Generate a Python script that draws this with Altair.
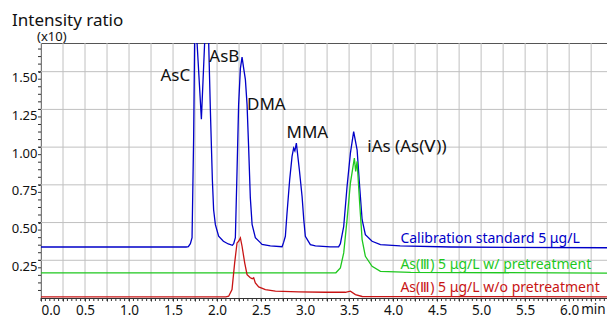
import altair as alt
import pandas as pd

# ---- data (time in min, intensity ratio x10) ----
blue_t = [0.0, 1.0, 1.65, 1.674, 1.697, 1.716, 1.734, 1.745, 1.76, 1.773, 1.822, 1.859, 1.88, 1.905,
          1.924, 1.947, 1.961, 1.981, 2.018, 2.072, 2.128, 2.174, 2.189, 2.208, 2.227, 2.245, 2.265,
          2.284, 2.303, 2.322, 2.341, 2.359, 2.378, 2.398, 2.435, 2.492, 2.511, 2.605, 2.739, 2.757,
          2.776, 2.795, 2.825, 2.852, 2.870, 2.884, 2.901, 2.935, 2.966, 2.985, 3.003, 3.06, 3.117,
          3.287, 3.381, 3.401, 3.439, 3.477, 3.515, 3.552, 3.591, 3.62, 3.648, 3.685, 3.761, 3.856,
          4.08, 4.65, 6.43]
blue_v = [0.338, 0.338, 0.338, 0.340, 0.36, 0.40, 1.06, 1.69, 1.95, 1.69, 1.185, 1.69, 1.95, 1.69,
          1.247, 0.78, 0.585, 0.486, 0.41, 0.376, 0.358, 0.349, 0.36, 0.40, 0.84, 1.28, 1.52,
          1.597, 1.52, 1.447, 1.28, 0.995, 0.665, 0.488, 0.40, 0.367, 0.355, 0.345, 0.34, 0.37,
          0.409, 0.563, 0.784, 0.938, 0.993, 0.975, 1.026, 0.85, 0.673, 0.52, 0.409, 0.354, 0.345,
          0.339, 0.339, 0.36, 0.475, 0.739, 0.96, 1.103, 0.982, 0.739, 0.519, 0.42, 0.376, 0.354,
          0.345, 0.338, 0.333]

green_t = [0.0, 3.35, 3.401, 3.439, 3.477, 3.515, 3.545, 3.56, 3.575, 3.591, 3.62, 3.648, 3.685,
           3.761, 3.856, 4.2, 6.43]
green_v = [0.167, 0.167, 0.2, 0.299, 0.519, 0.762, 0.872, 0.927, 0.839, 0.905, 0.63, 0.387, 0.276,
           0.21, 0.177, 0.17, 0.165]

red_t = [0.0, 2.10, 2.132, 2.17, 2.2, 2.227, 2.245, 2.265, 2.284, 2.314, 2.341, 2.378, 2.40, 2.416,
         2.435, 2.473, 2.549, 2.663, 2.927, 3.231, 3.458, 3.515, 3.572, 3.648, 6.43]
red_v = [0.008, 0.008, 0.012, 0.056, 0.233, 0.365, 0.376, 0.398, 0.343, 0.233, 0.155, 0.134, 0.128,
         0.134, 0.10, 0.074, 0.056, 0.045, 0.041, 0.038, 0.038, 0.045, 0.023, 0.01, 0.008]

series_names = ["Calibration standard 5 μg/L",
                "As(Ⅲ) 5 μg/L w/ pretreatment",
                "As(Ⅲ) 5 μg/L w/o pretreatment"]
series_colors = ["#0000c8", "#1ec81e", "#c81414"]

peak_labels = ["AsC", "AsB", "DMA", "MMA", "iAs (As(Ⅴ))"]
peak_t = [1.526, 2.083, 2.56, 3.026, 4.157]
peak_v = [1.472, 1.597, 1.28, 1.095, 1.002]

legend_t = [4.083, 4.083, 4.083]
legend_v = [0.394, 0.222, 0.063]

x_grid = [i * 0.25 for i in range(26)]
y_grid = [0.25, 0.5, 0.75, 1.0, 1.25, 1.5]
x_minor = [round(i * 0.05, 2) for i in range(129)]
y_minor = [round(i * 0.05, 2) for i in range(1, 34)]

FONT = "Noto Sans"
W, H = 566, 255
XDOM = [0, 6.43]
YDOM = [0, 1.69]

rows = []
for name, ts, vs in zip(series_names, [blue_t, green_t, red_t], [blue_v, green_v, red_v]):
    for i, (t, v) in enumerate(zip(ts, vs)):
        rows.append({"series": name, "t": t, "v": v, "i": i})
df = pd.DataFrame(rows)

# grid lines as two-point line segments (vertical and horizontal)
grows = []
for k, gx in enumerate(x_grid):
    grows.append({"g": "x%d" % k, "t": gx, "v": YDOM[0], "i": 0})
    grows.append({"g": "x%d" % k, "t": gx, "v": YDOM[1], "i": 1})
for k, gy in enumerate(y_grid):
    grows.append({"g": "y%d" % k, "t": XDOM[0], "v": gy, "i": 0})
    grows.append({"g": "y%d" % k, "t": XDOM[1], "v": gy, "i": 1})
gdf = pd.DataFrame(grows)

xs = alt.Scale(domain=XDOM, nice=False, zero=False)
ys = alt.Scale(domain=YDOM, nice=False, zero=False)
cs = alt.Scale(domain=series_names, range=series_colors)

xax = alt.Axis(
    values=x_grid, title=None, grid=False,
    tickSize=3, tickColor="#333", domainColor="#333",
    labelExpr="(round(datum.value*100) % 50 == 0) ? format(datum.value, '.1f') : ''",
    labelFont=FONT, labelFontSize=13.5, labelColor="#111", labelPadding=2)
yax = alt.Axis(
    values=y_grid, title=None, grid=False,
    tickSize=3, tickColor="#333", domainColor="#333", format=".2f",
    labelFont=FONT, labelFontSize=13, labelColor="#111", labelBaseline="top",
    labelPadding=1)

X = alt.X("t:Q", scale=xs, axis=xax)
Y = alt.Y("v:Q", scale=ys, axis=yax)

grid = alt.Chart(gdf).mark_line(color="#c0c0c0", strokeWidth=1).encode(
    x=X, y=Y, detail="g:N", order="i:Q")

lines = alt.Chart(df).mark_line(strokeWidth=1.3, clip=True).encode(
    x=X, y=Y,
    color=alt.Color("series:N", scale=cs, legend=None),
    order="i:Q",
)

xm = alt.Chart(pd.DataFrame({"t": x_minor})).mark_rule(color="#333", strokeWidth=1, clip=False).encode(
    x=X, y=alt.value(H), y2=alt.value(H + 3))
ym = alt.Chart(pd.DataFrame({"v": y_minor})).mark_rule(color="#333", strokeWidth=1, clip=False).encode(
    y=Y, x=alt.value(-3), x2=alt.value(0))

peaks = alt.Chart(pd.DataFrame({"t": peak_t, "v": peak_v, "label": peak_labels})).mark_text(
    font=FONT, fontSize=17, color="#111", align="center", baseline="middle").encode(
    x=X, y=Y, text="label:N")

legend = alt.Chart(pd.DataFrame({"t": legend_t, "v": legend_v, "label": series_names})).mark_text(
    font=FONT, fontSize=14, align="left", baseline="middle").encode(
    x=X, y=Y, text="label:N",
    color=alt.Color("label:N", scale=cs, legend=None))

min_lbl = alt.Chart(pd.DataFrame({"t": [6.0], "s": ["min"]})).mark_text(
    font=FONT, fontSize=13.5, color="#111", align="left", baseline="top", dx=12).encode(
    x=X, y=alt.value(H + 5), text="s:N")

titles = alt.Chart(pd.DataFrame({"s": ["Intensity ratio"]})).mark_text(
    font=FONT, fontSize=17, color="#111", align="left", baseline="alphabetic").encode(
    x=alt.value(-29), y=alt.value(-17), text="s:N")
sub = alt.Chart(pd.DataFrame({"s": ["(x10)"]})).mark_text(
    font=FONT, fontSize=13, color="#111", align="left", baseline="alphabetic").encode(
    x=alt.value(-4), y=alt.value(-2), text="s:N")

chart = alt.layer(grid, lines, xm, ym, peaks, legend, min_lbl, titles, sub).properties(
    width=W, height=H,
    background="white",
    autosize=alt.AutoSizeParams(type="none"),
    padding={"left": 33, "top": 35, "right": 0, "bottom": 20},
).configure_view(stroke="#555555", strokeWidth=1)

chart.save("out.html", embed_options={"renderer": "svg", "actions": False})
